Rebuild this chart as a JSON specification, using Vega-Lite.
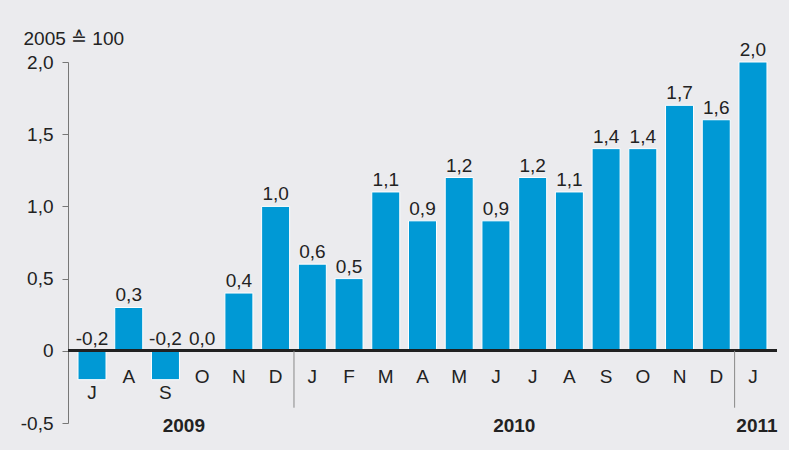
{
  "$schema": "https://vega.github.io/schema/vega-lite/v6.json",
  "width": 709,
  "height": 361,
  "autosize": {"type": "none"},
  "padding": {"left": 68, "top": 62, "right": 12, "bottom": 27},
  "background": "#ebebee",
  "config": {
    "view": {"stroke": null},
    "locale": {"number": {"decimal": ",", "thousands": ".", "grouping": [3], "currency": ["", " €"], "minus": "-"}},
    "text": {"font": "Liberation Sans", "fontSize": 19, "color": "#222222"}
  },
  "datasets": {
    "bars": [
      {"key": "2009-07", "month": "J", "value": -0.2},
      {"key": "2009-08", "month": "A", "value": 0.3},
      {"key": "2009-09", "month": "S", "value": -0.2},
      {"key": "2009-10", "month": "O", "value": 0.0},
      {"key": "2009-11", "month": "N", "value": 0.4},
      {"key": "2009-12", "month": "D", "value": 1.0},
      {"key": "2010-01", "month": "J", "value": 0.6},
      {"key": "2010-02", "month": "F", "value": 0.5},
      {"key": "2010-03", "month": "M", "value": 1.1},
      {"key": "2010-04", "month": "A", "value": 0.9},
      {"key": "2010-05", "month": "M", "value": 1.2},
      {"key": "2010-06", "month": "J", "value": 0.9},
      {"key": "2010-07", "month": "J", "value": 1.2},
      {"key": "2010-08", "month": "A", "value": 1.1},
      {"key": "2010-09", "month": "S", "value": 1.4},
      {"key": "2010-10", "month": "O", "value": 1.4},
      {"key": "2010-11", "month": "N", "value": 1.7},
      {"key": "2010-12", "month": "D", "value": 1.6},
      {"key": "2011-01", "month": "J", "value": 2.0}
    ],
    "years": [
      {"key": "2009-09", "year": "2009"},
      {"key": "2010-06", "year": "2010"}
    ],
    "year2011": [
      {"key": "2011-01", "year": "2011"}
    ],
    "seps": [
      {"key": "2009-12"},
      {"key": "2010-12"}
    ]
  },
  "encoding": {
    "x": {
      "field": "key",
      "type": "nominal",
      "scale": {"paddingInner": 0.2375, "paddingOuter": 0.273},
      "axis": null
    }
  },
  "layer": [
    {
      "data": {"name": "bars"},
      "mark": {"type": "bar", "color": "#0099d5", "stroke": "white", "strokeWidth": 1},
      "encoding": {
        "y": {
          "field": "value",
          "type": "quantitative",
          "scale": {"domain": [-0.5, 2.0], "nice": false, "zero": false},
          "axis": {
            "values": [-0.5, 0, 0.5, 1, 1.5, 2],
            "format": ".1f",
            "labelExpr": "datum.value === 0 ? '0' : datum.label",
            "grid": false,
            "domainColor": "#777777",
            "tickColor": "#777777",
            "tickSize": 6,
            "labelPadding": 9,
            "labelFont": "Liberation Sans",
            "labelFontSize": 19,
            "labelColor": "#222222",
            "title": "2005 ≙ 100",
            "titleAngle": 0,
            "titleAlign": "left",
            "titleBaseline": "alphabetic",
            "titleX": -45,
            "titleY": -18,
            "titleFont": "Liberation Sans",
            "titleFontSize": 19,
            "titleFontWeight": "normal",
            "titleColor": "#222222"
          }
        }
      }
    },
    {
      "data": {"name": "bars"},
      "mark": {"type": "rule", "color": "#222222", "strokeWidth": 2},
      "encoding": {"x": null, "y": {"datum": 0}}
    },
    {
      "data": {"name": "seps"},
      "mark": {"type": "rule", "color": "#888888", "strokeWidth": 1},
      "encoding": {
        "x": {"field": "key", "type": "nominal", "bandPosition": 1.1557},
        "y": {"datum": 0},
        "y2": {"datum": -0.394}
      }
    },
    {
      "data": {"name": "bars"},
      "transform": [{"filter": "datum.value > 0"}],
      "mark": {"type": "text", "baseline": "alphabetic", "dy": -6},
      "encoding": {
        "y": {"field": "value", "type": "quantitative"},
        "text": {"field": "value", "type": "quantitative", "format": ".1f"}
      }
    },
    {
      "data": {"name": "bars"},
      "transform": [{"filter": "datum.value <= 0"}],
      "mark": {"type": "text", "baseline": "alphabetic", "dy": -6},
      "encoding": {
        "y": {"datum": 0},
        "text": {"field": "value", "type": "quantitative", "format": ".1f"}
      }
    },
    {
      "data": {"name": "bars"},
      "transform": [{"filter": "datum.value >= 0"}],
      "mark": {"type": "text", "baseline": "middle"},
      "encoding": {
        "y": {"datum": -0.178},
        "text": {"field": "month", "type": "nominal"}
      }
    },
    {
      "data": {"name": "bars"},
      "transform": [{"filter": "datum.value < 0"}],
      "mark": {"type": "text", "baseline": "middle"},
      "encoding": {
        "y": {"datum": -0.289},
        "text": {"field": "month", "type": "nominal"}
      }
    },
    {
      "data": {"name": "years"},
      "mark": {"type": "text", "baseline": "middle", "fontWeight": "bold"},
      "encoding": {
        "x": {"field": "key", "type": "nominal", "bandPosition": 1.1557},
        "y": {"datum": -0.519},
        "text": {"field": "year", "type": "nominal"}
      }
    },
    {
      "data": {"name": "year2011"},
      "mark": {"type": "text", "baseline": "middle", "fontWeight": "bold", "dx": 4},
      "encoding": {
        "y": {"datum": -0.519},
        "text": {"field": "year", "type": "nominal"}
      }
    }
  ]
}
